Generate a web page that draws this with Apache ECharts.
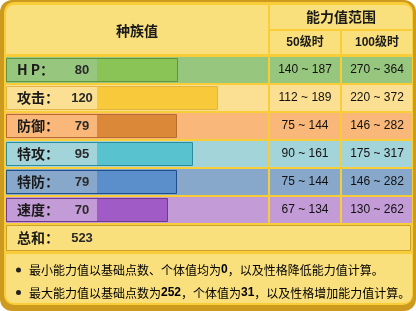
<!DOCTYPE html>
<html><head><meta charset="utf-8">
<script src="https://cdn.jsdelivr.net/npm/echarts@6/dist/echarts.min.js"></script>
<style>html,body{margin:0;padding:0;background:#fff}#c{width:416px;height:311px}</style>
</head><body><div id="c"></div>
<script>
// ---- data ----
const statNames = ['H P：', '攻击：', '防御：', '特攻：', '特防：', '速度：'];
const baseStats = [80, 120, 79, 95, 79, 70];
const lv50Min = [140, 112, 75, 90, 75, 67];
const lv50Max = [187, 189, 144, 161, 144, 134];
const lv100Min = [270, 220, 146, 175, 146, 130];
const lv100Max = [364, 372, 282, 317, 282, 262];
const totalLabel = '总和：';
const totalValue = 523;
const headerBase = '种族值';
const headerRange = '能力值范围';
const headerLv50 = '50级时';
const headerLv100 = '100级时';
const minEV = 0, maxEV = 252, maxIV = 31;

// ---- styles ----
const rowLight = ['#97C77E', '#FBE093', '#F9B87A', '#A3D4DA', '#87A8CB', '#C39BD6'];
const rowBar   = ['#8BC456', '#F8C93B', '#DC8839', '#58C2CF', '#5A8FCB', '#A05BC7'];
const rowEdge  = ['#5E9440', '#E2B440', '#B86B2E', '#2A8C98', '#1F4E8C', '#6C3A8E'];
const DARK = '#CC9A1E', YEL = '#F9CD38', LIGHT = '#FADF7D', TXT = '#1a1a1a';
const NUMF = '"Liberation Sans", "Noto Sans CJK SC", sans-serif';
const CJKF = '"Noto Sans CJK SC", "Liberation Sans", sans-serif';

const chart = echarts.init(document.getElementById('c'), null, {renderer: 'canvas'});

function renderRow(params, api) {
  const i = params.dataIndex;
  const v = api.value(0);
  const end = api.coord([v, i]);
  const start = api.coord([0, i]);
  const cy = end[1];
  const top = cy - 13;
  return {
    type: 'group',
    children: [
      {type: 'rect', shape: {x: 6, y: top, width: 262, height: 26}, style: {fill: rowLight[i]}},
      {type: 'rect', shape: {x: 270, y: top, width: 70, height: 26}, style: {fill: rowLight[i]}},
      {type: 'rect', shape: {x: 342, y: top, width: 70, height: 26}, style: {fill: rowLight[i]}},
      {type: 'rect', shape: {x: start[0], y: cy - 12, width: end[0] - start[0], height: 24}, style: {fill: rowBar[i]}},
      {type: 'rect', shape: {x: 6.5, y: cy - 11.5, width: end[0] - 6, height: 23}, style: {fill: null, stroke: rowEdge[i], lineWidth: 1}},
      {type: 'text', x: 17, y: cy, style: {text: statNames[i], font: 'bold 14px ' + CJKF, fill: TXT, verticalAlign: 'middle', align: 'left'}},
      {type: 'text', x: 82, y: cy, style: {text: String(baseStats[i]), font: 'bold 13px ' + NUMF, fill: '#2a2a2a', verticalAlign: 'middle', align: 'center'}},
      {type: 'text', x: 305, y: cy, style: {text: lv50Min[i] + ' ~ ' + lv50Max[i], font: '12px ' + NUMF, fill: '#111', verticalAlign: 'middle', align: 'center'}},
      {type: 'text', x: 377, y: cy, style: {text: lv100Min[i] + ' ~ ' + lv100Max[i], font: '12px ' + NUMF, fill: '#111', verticalAlign: 'middle', align: 'center'}}
    ]
  };
}

const noteRich = {
  n: {fontSize: 12, fontFamily: CJKF, color: '#222'},
  l: {fontSize: 12, fontFamily: CJKF, color: '#6A1A1A'},
  b: {fontSize: 12, fontFamily: NUMF, fontWeight: 'bold', color: '#111'}
};

const option = {
  animation: false,
  grid: {left: 97, top: 56, width: 172, height: 168},
  xAxis: {type: 'value', min: 0, max: 172, show: false},
  yAxis: {type: 'category', data: statNames, inverse: true, show: false},
  graphic: [
    {type: 'rect', z: 0, shape: {x: 0, y: 0, width: 416, height: 311, r: 12}, style: {fill: DARK}},
    {type: 'rect', z: 0, shape: {x: 4, y: 2, width: 409, height: 303, r: 10}, style: {fill: YEL}},
    {type: 'rect', z: 0, shape: {x: 6, y: 5, width: 262, height: 49, r: [8, 0, 0, 0]}, style: {fill: LIGHT}},
    {type: 'rect', z: 0, shape: {x: 270, y: 5, width: 142, height: 24, r: [0, 8, 0, 0]}, style: {fill: LIGHT}},
    {type: 'rect', z: 0, shape: {x: 270, y: 31, width: 70, height: 23}, style: {fill: LIGHT}},
    {type: 'rect', z: 0, shape: {x: 342, y: 31, width: 70, height: 23}, style: {fill: LIGHT}},
    {type: 'rect', z: 0, shape: {x: 6.5, y: 225.5, width: 404, height: 25}, style: {fill: LIGHT, stroke: '#C9A12E', lineWidth: 1}},
    {type: 'rect', z: 0, shape: {x: 6, y: 254, width: 406, height: 49, r: [0, 0, 8, 8]}, style: {fill: LIGHT}},
    {type: 'text', z: 5, x: 137, y: 31, style: {text: headerBase, font: 'bold 14px ' + CJKF, fill: TXT, align: 'center', verticalAlign: 'middle'}},
    {type: 'text', z: 5, x: 341, y: 17, style: {text: headerRange, font: 'bold 14px ' + CJKF, fill: TXT, align: 'center', verticalAlign: 'middle'}},
    {type: 'text', z: 5, x: 305, y: 43, style: {text: headerLv50, font: 'bold 12px ' + NUMF, fill: TXT, align: 'center', verticalAlign: 'middle'}},
    {type: 'text', z: 5, x: 377, y: 43, style: {text: headerLv100, font: 'bold 12px ' + NUMF, fill: TXT, align: 'center', verticalAlign: 'middle'}},
    {type: 'text', z: 5, x: 17, y: 238, style: {text: totalLabel, font: 'bold 14px ' + CJKF, fill: TXT, align: 'left', verticalAlign: 'middle'}},
    {type: 'text', z: 5, x: 82, y: 238, style: {text: String(totalValue), font: 'bold 13px ' + NUMF, fill: '#2a2a2a', align: 'center', verticalAlign: 'middle'}},
    {type: 'circle', z: 5, shape: {cx: 18.5, cy: 270, r: 2.5}, style: {fill: '#222'}},
    {type: 'circle', z: 5, shape: {cx: 18.5, cy: 292.5, r: 2.5}, style: {fill: '#222'}},
    {type: 'text', z: 5, x: 29, y: 270, style: {
      text: '{n|最小能力值以}{l|基础点数}{n|、}{l|个体值}{n|均为}{b|' + minEV + '}{n|，以及}{l|性格}{n|降低能力值计算。}',
      rich: noteRich, align: 'left', verticalAlign: 'middle'}},
    {type: 'text', z: 5, x: 29, y: 293, style: {
      text: '{n|最大能力值以}{l|基础点数}{n|为}{b|' + maxEV + '}{n|，}{l|个体值}{n|为}{b|' + maxIV + '}{n|，以及}{l|性格}{n|增加能力值计算。}',
      rich: noteRich, align: 'left', verticalAlign: 'middle'}}
  ],
  series: [{
    type: 'custom',
    z: 2,
    renderItem: renderRow,
    encode: {x: 0, y: 1},
    data: baseStats.map((v, i) => [v, i])
  }]
};
chart.setOption(option);
</script></body></html>
